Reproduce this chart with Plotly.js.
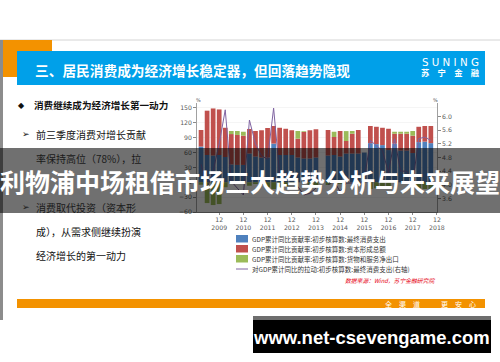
<!DOCTYPE html>
<html>
<head>
<meta charset="utf-8">
<script src="https://cdn.plot.ly/plotly-3.0.1.min.js"></script>
<style>
html,body{margin:0;padding:0;background:#fff;}
#chart{width:500px;height:362px;}
</style>
</head>
<body>
<div id="chart"></div>
<script>
// ---- data (quarterly, cumulative YoY; 2009-03 .. 2018-09) ----
const quarterPos = [1,2,3,4,5,6,7,8,9,10,11,12,13,14,15,16,17,18,19,20,21,22,23,24,25,26,27,28,29,30,31,32,33,34,35,36,37,38,39];
const consumption = [72,55,54,55,51,36,35,35,58,52,50,50,78,55,55,55,50,48,48,50,null,54,55,52,58,58,58,60,79,77,75,65,78,64,64,59,81,82,79];
const capital = [33.5,89.5,95,92,59,61.3,60.5,59,49.6,51.5,55,59.6,35.6,55,53,50,38,53.5,57,57,null,51.5,36.4,51.5,25.3,40,47.5,0,34.6,35,35,43,20,34,34,35,31,31.6,34.6];
const netExports = [-5,-42,-46,-44,-10,6.2,8,8,-7,-3.5,-5,-9.6,-13.6,-10,-8,-5,15.5,1.5,-5,-7,null,-5.5,10.6,-3.5,20,5.5,-5.5,0,-13.6,-12,-10,-8,4,4,4,9.5,-12,-13.6,-13.6];
const consumptionPull = [4.6,3.9,4.4,5.2,6.2,4.1,3.9,3.7,5.9,5.2,4.85,4.75,6.25,4.3,4.25,4.35,3.95,3.7,3.75,3.9,null,4.0,4.1,3.8,4.05,4.05,4.0,4.15,5.3,5.15,5.0,4.35,5.35,4.4,4.4,4.05,5.35,5.4,5.3];
const tickPos = [0,4,8,12,16,20,24,28,32,36,40];
const tickLabels = ['12<br>2008','12<br>2009','12<br>2010','12<br>2011','12<br>2012','12<br>2013','12<br>2014','12<br>2015','12<br>2016','12<br>2017','12<br>2018'];
const leftTicks = [-60,-30,0,30,60,90,120,150];
const rightTicks = [3.6,4.0,4.4,4.8,5.2,5.6,6.0];
const rightTickText = ['3.6','4.0','4.4','4.8','5.2','5.6','6.0'];
const seriesNames = ['GDP累计同比贡献率:初步核算数:最终消费支出','GDP累计同比贡献率:初步核算数:资本形成总额','GDP累计同比贡献率:初步核算数:货物和服务净出口','对GDP累计同比的拉动:初步核算数:最终消费支出(右轴)'];
const colors = ['#4f81bd','#c0504d','#9bbb59','#8064a2'];

// ---- pixel helpers (plot area 197..437 x 103..212) ----
const L=197, R=437, T=103, B=212;
const px = X => (X-L)/(R-L);
const py = Y => (B-Y)/(B-T);
const CJK = '"Noto Sans CJK SC", "DejaVu Sans", sans-serif';

const traces = [
  {type:'bar', x:quarterPos, y:consumption, name:seriesNames[0], marker:{color:colors[0], line:{width:0}}, width:0.78, hoverinfo:'skip'},
  {type:'bar', x:quarterPos, y:capital, name:seriesNames[1], marker:{color:colors[1], line:{width:0}}, width:0.78, hoverinfo:'skip'},
  {type:'bar', x:quarterPos, y:netExports, name:seriesNames[2], marker:{color:colors[2], line:{width:0}}, width:0.78, hoverinfo:'skip'},
  {type:'scatter', mode:'lines', x:quarterPos, y:consumptionPull, name:seriesNames[3], yaxis:'y2', line:{color:colors[3], width:1}, connectgaps:false, hoverinfo:'skip'}
];

function rect(x0,y0,x1,y1,fill){
  return {type:'rect', xref:'paper', yref:'paper', x0:px(x0), x1:px(x1), y0:py(y1), y1:py(y0), fillcolor:fill, line:{width:0}};
}
function ann(text,X,Y,opts){
  return Object.assign({text:text, xref:'paper', yref:'paper', x:px(X), y:py(Y), showarrow:false, xanchor:'left', yanchor:'middle', font:{family:CJK, size:10, color:'#111'}}, opts||{});
}

const shapes = [
  {type:'line', xref:'paper', yref:'paper', x0:px(0), x1:px(500), y0:py(40), y1:py(40), line:{color:'#d4d4d4', width:1}},
  rect(0,40,3,320,'#8c8c8c'),
  rect(3,40,52,77,'#f39200'),
  rect(17,51,485,85,'#00a0e9'),
  rect(17,299,485,308,'#f39200'),
  // legend keys
  rect(236,235,248,242.5,colors[0]),
  rect(236,245,248,252.5,colors[1]),
  rect(236,255,248,262.5,colors[2]),
  {type:'line', xref:'paper', yref:'paper', x0:px(236), x1:px(248), y0:py(269), y1:py(269), line:{color:colors[3], width:1}},
  // dark translucent band
  rect(0,148,500,213,'rgba(0,0,0,0.56)'),
  // watermark box
  rect(253,316,491,353,'#000000'),
  rect(253,316,491,320,'#6e6e6e')
];

const legendFont = {family:CJK, size:6.5, color:'#333'};
const annotations = [
  ann('三、居民消费成为经济增长稳定器，但回落趋势隐现',33,69.5,{font:{family:CJK,size:13.7,color:'#fff',weight:'bold'}}),
  ann('S U N I N G',450,62.5,{xanchor:'center',font:{family:'"DejaVu Sans", sans-serif',size:10.3,color:'#fff'}}),
  ann('苏　宁　金　融',450,72.3,{xanchor:'center',font:{family:CJK,size:8.3,color:'#fff',weight:'bold'}}),
  ann('◆',16,105,{font:{family:'"DejaVu Sans", sans-serif',size:8,color:'#111'}}),
  ann('消费继续成为经济增长第一动力',32,105,{font:{family:CJK,size:9.6,color:'#111',weight:'bold'}}),
  ann('➢',20,134,{font:{family:'"DejaVu Sans", sans-serif',size:9,color:'#111'}}),
  ann('前三季度消费对增长贡献',34,134,{font:{family:CJK,size:10,color:'#111'}}),
  ann('率保持高位（78%），拉',34,158,{font:{family:CJK,size:10,color:'#1a1a1a'}}),
  ann('➢',20,207,{font:{family:'"DejaVu Sans", sans-serif',size:9,color:'#1a1a1a'}}),
  ann('消费取代投资（资本形',34,207,{font:{family:CJK,size:10,color:'#1a1a1a'}}),
  ann('成），从需求侧继续扮演',34,231,{font:{family:CJK,size:10,color:'#111'}}),
  ann('经济增长的第一动力',34,255,{font:{family:CJK,size:10,color:'#111'}}),
  ann('%',198,100,{xanchor:'center',font:{family:'"DejaVu Sans", sans-serif',size:5,color:'#555'}}),
  ann('%',435.5,99.5,{xanchor:'center',font:{family:'"DejaVu Sans", sans-serif',size:5,color:'#555'}}),
  ann(seriesNames[0],249.5,238.7,{font:legendFont}),
  ann(seriesNames[1],249.5,248.8,{font:legendFont}),
  ann(seriesNames[2],249.5,258.8,{font:legendFont}),
  ann(seriesNames[3],249.5,269,{font:legendFont}),
  ann('<i>数据来源：Wind，苏宁金融研究院</i>',437,280,{xanchor:'right',font:{family:CJK,size:5.8,color:'#e60012'}}),
  ann('全　渠　道　　　更　安　心',478,303.7,{xanchor:'right',font:{family:CJK,size:7,color:'#fff'}}),
  ann('利物浦中场租借市场三大趋势分析与未来展望',250,180.5,{xanchor:'center',font:{family:CJK,size:25,color:'#fff',weight:'bold'}}),
  ann('www.net-csevengame.com',371.5,337,{xanchor:'center',font:{family:'"Liberation Sans", "DejaVu Sans", sans-serif',size:18.5,color:'#fff',weight:'bold'}})
];

const tickFont = {family:'"DejaVu Sans", sans-serif', size:6.2, color:'#595959'};
const layout = {
  width:500, height:362,
  margin:{l:L, r:500-R, t:T, b:362-B, pad:0},
  paper_bgcolor:'#ffffff', plot_bgcolor:'rgba(0,0,0,0)',
  barmode:'relative', showlegend:false,
  font:{family:CJK},
  xaxis:{range:[0.33,40.02], tickmode:'array', tickvals:tickPos, ticktext:tickLabels, tickfont:tickFont,
         showline:true, linecolor:'#8a8a8a', linewidth:0.8, ticks:'outside', ticklen:2, tickcolor:'#8a8a8a',
         showgrid:false, zeroline:false, fixedrange:true},
  yaxis:{range:[-60,160], tickmode:'array', tickvals:leftTicks, tickfont:tickFont,
         showline:true, linecolor:'#8a8a8a', linewidth:0.8, ticks:'outside', ticklen:3, tickcolor:'#8a8a8a',
         showgrid:true, gridcolor:'#efefef', gridwidth:0.6, zeroline:false, fixedrange:true},
  yaxis2:{overlaying:'y', side:'right', range:[3.2,6.4], tickmode:'array', tickvals:rightTicks, ticktext:rightTickText, tickfont:tickFont,
          showline:true, linecolor:'#8a8a8a', linewidth:0.8, ticks:'outside', ticklen:3, tickcolor:'#8a8a8a',
          showgrid:false, zeroline:false, fixedrange:true},
  shapes:shapes,
  annotations:annotations
};

Plotly.newPlot('chart', traces, layout, {staticPlot:true, displayModeBar:false});
</script>
</body>
</html>
